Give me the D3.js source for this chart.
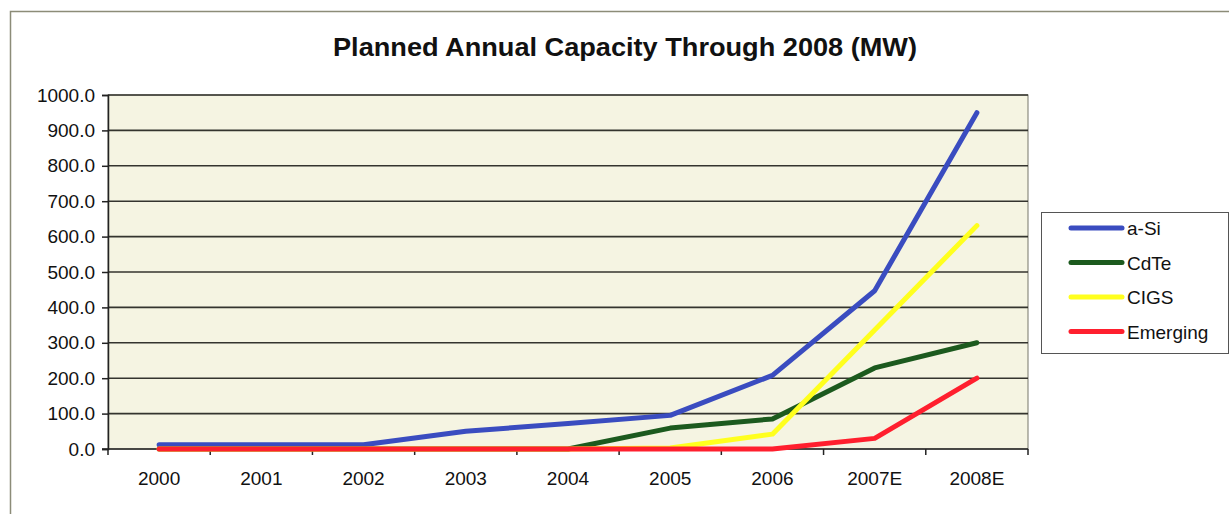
<!doctype html>
<html>
<head>
<meta charset="UTF-8" />
<script src="https://cdn.jsdelivr.net/npm/d3@7"></script>
<style>
  body { margin: 0; background: #fff; }
  text { font-family: Arial, "Liberation Sans", sans-serif; fill: #111; }
</style>
</head>
<body>
<svg id="chart" width="1229" height="514"></svg>
<script>
(function(){
  "use strict";

  const years = ["2000", "2001", "2002", "2003", "2004", "2005", "2006", "2007E", "2008E"];
  const aSi = [12, 12, 12, 50, 72, 95, 208, 447, 950];
  const cdTe = [0, 0, 0, 0, 0, 59, 85, 229, 300];
  const cigs = [0, 0, 0, 0, 0, 3, 42, 336, 631];
  const emerging = [0, 0, 0, 0, 0, 0, 0, 30, 200];
  const yTicks = [0, 100, 200, 300, 400, 500, 600, 700, 800, 900, 1000];

  const series = [
    { name: "a-Si", values: aSi, color: "#3a4cc0" },
    { name: "CdTe", values: cdTe, color: "#1c5a1e" },
    { name: "CIGS", values: cigs, color: "#ffff1e" },
    { name: "Emerging", values: emerging, color: "#ff1f2e" }
  ];

  const svg = d3.select("#chart");
  const plot = { left: 108, right: 1028, top: 95, bottom: 449 };

  // outer chart border
  svg.append("rect")
     .attr("x", 10.5).attr("y", 11.5)
     .attr("width", 1240).attr("height", 520)
     .attr("fill", "none")
     .attr("stroke", "#8c8c78")
     .attr("stroke-width", 1.5);

  svg.append("text")
     .attr("x", 625).attr("y", 56)
     .attr("text-anchor", "middle")
     .attr("textLength", 584)
     .attr("lengthAdjust", "spacingAndGlyphs")
     .style("font-size", "25px")
     .style("font-weight", "bold")
     .text("Planned Annual Capacity Through 2008 (MW)");

  const x = d3.scaleBand().domain(years).range([plot.left, plot.right]);
  const y = d3.scaleLinear().domain([0, 1000]).range([plot.bottom, plot.top]);

  // plot background
  svg.append("rect")
     .attr("x", plot.left).attr("y", plot.top)
     .attr("width", plot.right - plot.left).attr("height", plot.bottom - plot.top)
     .attr("fill", "#f5f4e2")
     .attr("stroke", "#77776a")
     .attr("stroke-width", 1);

  // gridlines
  svg.append("g").selectAll("line")
     .data(yTicks.filter(d => d > 0))
     .enter().append("line")
     .attr("x1", plot.left).attr("x2", plot.right)
     .attr("y1", d => y(d)).attr("y2", d => y(d))
     .attr("stroke", "#34342e")
     .attr("stroke-width", 1.6);

  // y axis
  const yAxis = svg.append("g")
     .attr("transform", "translate(" + plot.left + ",0)")
     .call(d3.axisLeft(y).tickValues(yTicks).tickFormat(d3.format(".1f")).tickSize(6).tickPadding(7));
  yAxis.select(".domain").attr("stroke", "#222").attr("stroke-width", 1.5);
  yAxis.selectAll(".tick line").attr("stroke", "#222").attr("stroke-width", 1.5);
  yAxis.selectAll("text").style("font-size", "19px").attr("fill", "#111")
     .style("font-family", "Arial, 'Liberation Sans', sans-serif");

  // x axis with ticks between categories
  const xAxis = svg.append("g")
     .attr("transform", "translate(0," + plot.bottom + ")");
  xAxis.append("line")
     .attr("x1", plot.left - 6).attr("x2", plot.right)
     .attr("stroke", "#222").attr("stroke-width", 1.5);
  xAxis.selectAll(".sep")
     .data(years)
     .enter().append("line")
     .attr("x1", d => x(d) + x.bandwidth())
     .attr("x2", d => x(d) + x.bandwidth())
     .attr("y1", 0).attr("y2", 6)
     .attr("stroke", "#222").attr("stroke-width", 1.5);
  xAxis.append("line")
     .attr("x1", plot.left).attr("x2", plot.left)
     .attr("y1", 0).attr("y2", 6)
     .attr("stroke", "#222").attr("stroke-width", 1.5);
  xAxis.selectAll(".lab")
     .data(years)
     .enter().append("text")
     .attr("x", d => x(d) + x.bandwidth() / 2)
     .attr("y", 36)
     .attr("text-anchor", "middle")
     .style("font-size", "19px")
     .text(d => d);

  // series lines
  const line = d3.line()
     .x((d, i) => x(years[i]) + x.bandwidth() / 2)
     .y(d => y(d));

  svg.append("g").selectAll("path")
     .data(series)
     .enter().append("path")
     .attr("d", d => line(d.values))
     .attr("fill", "none")
     .attr("stroke", d => d.color)
     .attr("stroke-width", 5)
     .attr("stroke-linejoin", "round")
     .attr("stroke-linecap", "round");

  // legend
  const legend = svg.append("g").attr("transform", "translate(1041,212)");
  legend.append("rect")
     .attr("x", 0.5).attr("y", 0.5)
     .attr("width", 187).attr("height", 141)
     .attr("fill", "#fff")
     .attr("stroke", "#555")
     .attr("stroke-width", 1);
  const item = legend.selectAll(".item")
     .data(series)
     .enter().append("g")
     .attr("transform", (d, i) => "translate(0," + (16 + i * 34.5) + ")");
  item.append("line")
     .attr("x1", 30).attr("x2", 81)
     .attr("stroke", d => d.color)
     .attr("stroke-width", 5)
     .attr("stroke-linecap", "round");
  item.append("text")
     .attr("x", 86).attr("y", 7)
     .style("font-size", "19px")
     .text(d => d.name);
})();
</script>
</body>
</html>
